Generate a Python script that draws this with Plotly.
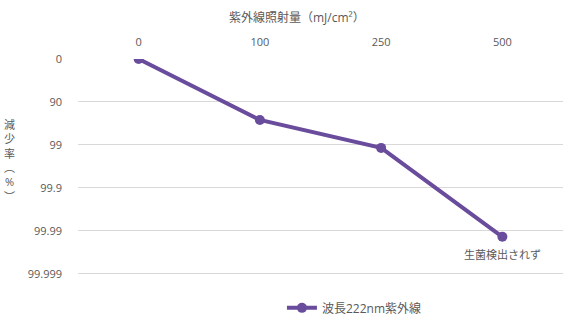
import plotly.graph_objects as go

doses = ["0", "100", "250", "500"]
log_reduction = [0, 1.42, 2.07, 4.14]
tick_vals = [0, 1, 2, 3, 4, 5]
tick_labels = ["0", "90", "99", "99.9", "99.99", "99.999"]
series_name = "波長222nm紫外線"

purple = "#6a4c9c"
gray = "#595959"
font_family = "Open Sans, Noto Sans CJK JP, sans-serif"

fig = go.Figure()
fig.add_trace(go.Scatter(
    x=doses, y=log_reduction, mode="lines+markers", name=series_name,
    line=dict(color=purple, width=4),
    marker=dict(color=purple, size=10),
))

fig.update_layout(
    width=569, height=318,
    margin=dict(l=78, r=6, t=59, b=43, autoexpand=False),
    paper_bgcolor="white", plot_bgcolor="white",
    font=dict(family=font_family, size=11, color=gray),
    showlegend=True,
    legend=dict(orientation="h", x=0.57, xanchor="center", y=-0.085, yanchor="top",
                font=dict(size=12, color=gray)),
    xaxis=dict(type="category", side="top", range=[-0.5, 3.5], showgrid=False,
               showline=False, zeroline=False, ticks="", tickfont=dict(size=11, color=gray),
               ticklabelstandoff=10, automargin=False),
    yaxis=dict(range=[5.03, 0], tickvals=tick_vals, ticktext=tick_labels, showgrid=True,
               gridcolor="#d9d9d9", gridwidth=1, zeroline=False, showline=False, ticks="",
               tickfont=dict(size=11, color=gray), ticklabelstandoff=15, automargin=False),
)

fig.add_annotation(text="紫外線照射量（mJ/cm²）", xref="paper", yref="paper",
                   x=(297 - 78) / 485, y=1 + (59 - 18) / 216, showarrow=False,
                   font=dict(size=12, color=gray), xanchor="center", yanchor="middle")
fig.add_annotation(text="減<br>少<br>率<br>︵<br>%<br>︶", xref="paper", yref="paper",
                   x=-(78 - 9) / 485, y=(275 - 160) / 216, showarrow=False,
                   font=dict(size=11, color=gray), xanchor="center", yanchor="middle")
fig.add_annotation(text="生菌検出されず", x=doses.index("500"), y=log_reduction[3], yshift=-18,
                   showarrow=False, font=dict(size=11, color=gray),
                   xanchor="center", yanchor="middle")

fig.write_html("out.html")
